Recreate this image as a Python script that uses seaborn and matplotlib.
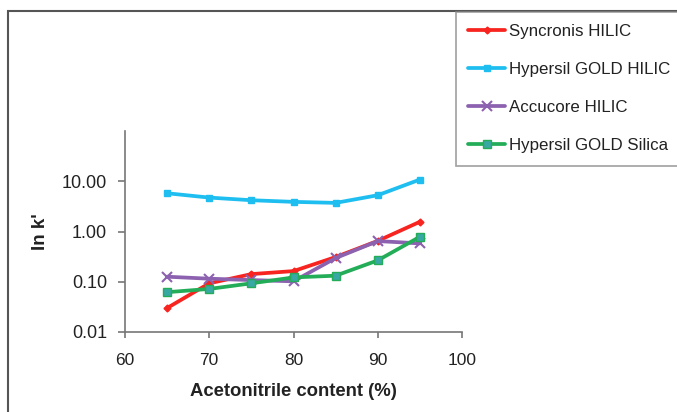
import numpy as np
import pandas as pd
import matplotlib
matplotlib.use("Agg")
import matplotlib.pyplot as plt
import seaborn as sns
from matplotlib.patches import Rectangle
from matplotlib.ticker import FixedLocator, FixedFormatter

acetonitrile = [65, 70, 75, 80, 85, 90, 95]
syncronis = [0.030, 0.093, 0.142, 0.163, 0.31, 0.65, 1.56]
hypersil_hilic = [5.77, 4.73, 4.19, 3.89, 3.71, 5.27, 10.8]
accucore = [0.126, 0.115, 0.108, 0.102, 0.296, 0.645, 0.58]
hypersil_silica = [0.062, 0.072, 0.093, 0.122, 0.132, 0.266, 0.785]

series_names = ["Syncronis HILIC", "Hypersil GOLD HILIC", "Accucore HILIC", "Hypersil GOLD Silica"]
y_ticks = [0.01, 0.1, 1, 10]
y_tick_labels = ["0.01", "0.10", "1.00", "10.00"]
x_ticks = [60, 70, 80, 90, 100]

sns.set_style("white")
plt.rcParams['font.family'] = ['Liberation Sans', 'DejaVu Sans']

fig = plt.figure(figsize=(6.77, 4.12), dpi=100)
ax = fig.add_axes([125/677, 1-332/412, (462-125)/677, (332-131)/412])

styles = [
    dict(color="#f7241f", marker="D", markersize=3.5, mfc="#f7241f", mec="#f7241f"),
    dict(color="#1ebef0", marker="s", markersize=5, mfc="#1ebef0", mec="#1ebef0"),
    dict(color="#8c62b0", marker="x", markersize=7, mfc="#8c62b0", mec="#8c62b0", mew=1.5),
    dict(color="#24ad58", marker="s", markersize=5.5, mfc="#38a8a4", mec="#24ad58"),
]
values = [syncronis, hypersil_hilic, accucore, hypersil_silica]

for name, vals, st in zip(series_names, values, styles):
    df = pd.DataFrame({"x": acetonitrile, "y": vals})
    sns.lineplot(data=df, x="x", y="y", ax=ax, color=st["color"], lw=2.7,
                 marker=st["marker"], markersize=st["markersize"],
                 markerfacecolor=st["mfc"], markeredgecolor=st["mec"],
                 markeredgewidth=st.get("mew", 1), label=name, legend=False)

ax.set_yscale("log")
ax.set_ylim(0.01, 100)
ax.set_xlim(60, 100)
ax.yaxis.set_major_locator(FixedLocator(y_ticks))
ax.yaxis.set_major_formatter(FixedFormatter(y_tick_labels))
ax.yaxis.set_minor_locator(FixedLocator([]))
ax.set_xticks(x_ticks)
ax.set_xticklabels([str(v) for v in x_ticks])

for s in ["top", "right"]:
    ax.spines[s].set_visible(False)
for s in ["left", "bottom"]:
    ax.spines[s].set_color("#777777")
    ax.spines[s].set_linewidth(1.2)
ax.tick_params(axis="y", which="major", direction="out", length=5, width=1.2,
               color="#777777", labelsize=13, labelcolor="#222222", pad=8, left=True)
ax.tick_params(axis="x", which="major", direction="out", length=4, width=1.2,
               color="#777777", labelsize=12.5, labelcolor="#222222", pad=11, bottom=True)

ax.set_xlabel("Acetonitrile content (%)", fontsize=13.3, fontweight="bold", color="#222222", labelpad=11)
ax.set_ylabel("In k'", fontsize=13.5, fontweight="bold", color="#222222", labelpad=9)

handles, labels = ax.get_legend_handles_labels()
leg = fig.legend(handles, labels, loc="upper left",
                 bbox_to_anchor=(456/677, 1-163/412, 1-456/677+0.05, 151/412),
                 mode="expand", fontsize=12.2, frameon=True, fancybox=False,
                 edgecolor="#888888", labelspacing=1.36, handlelength=2.2,
                 handletextpad=0.2, borderpad=0.72, borderaxespad=0)
leg.get_frame().set_linewidth(1.2)
for t in leg.get_texts():
    t.set_color("#222222")

fig.patches.append(Rectangle((8/677, -0.1), 1.2, 1-11/412+0.1, transform=fig.transFigure,
                             fill=False, edgecolor="#555555", lw=1.5, zorder=0))

fig.savefig("out.png", dpi=100)
